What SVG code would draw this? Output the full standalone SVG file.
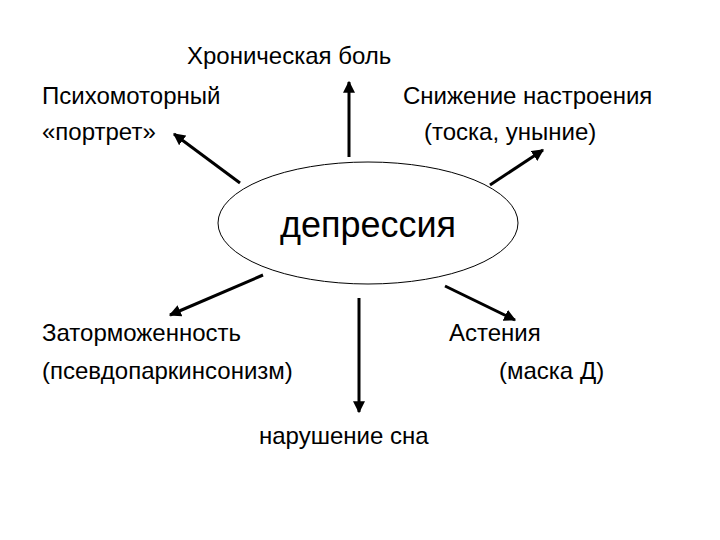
<svg xmlns="http://www.w3.org/2000/svg" width="720" height="540" viewBox="0 0 720 540">
<style>
text{font-family:"Liberation Sans",Arial,sans-serif;font-size:24px;fill:#000}
.c line{stroke:#000;stroke-width:3;marker-end:url(#a)}
</style>
<defs><marker id="a" viewBox="0 0 10 10" refX="9" refY="5" markerWidth="4" markerHeight="4" orient="auto" markerUnits="strokeWidth"><path d="M0,0L10,5L0,10z" fill="#000"/></marker></defs>
<rect width="720" height="540" fill="#fff"/>
<g class="c" id="connectors">
<line x1="349" y1="157" x2="349" y2="82"/>
<line x1="240" y1="183" x2="174" y2="134"/>
<line x1="490" y1="185" x2="543" y2="150"/>
<line x1="263" y1="275" x2="170" y2="315"/>
<line x1="445" y1="286" x2="515" y2="320"/>
<line x1="359" y1="298" x2="359" y2="412"/>
</g>
<g id="center"><ellipse cx="368" cy="223" rx="150" ry="61" fill="#fff" stroke="#000" stroke-width="1"/><text x="368" y="237" text-anchor="middle" style="font-size:36px">депрессия</text></g>
<g id="n1"><text x="187" y="64">Хроническая боль</text></g>
<g id="n2"><text x="42" y="104">Психомоторный</text><text x="42" y="140">«портрет»</text></g>
<g id="n3"><text x="403" y="104">Снижение настроения</text><text x="424" y="140">(тоска, уныние)</text></g>
<g id="n4"><text x="42" y="341">Заторможенность</text><text x="42" y="379">(псевдопаркинсонизм)</text></g>
<g id="n5"><text x="449" y="341">Астения</text><text x="499" y="379">(маска Д)</text></g>
<g id="n6"><text x="259" y="444">нарушение сна</text></g>
</svg>
